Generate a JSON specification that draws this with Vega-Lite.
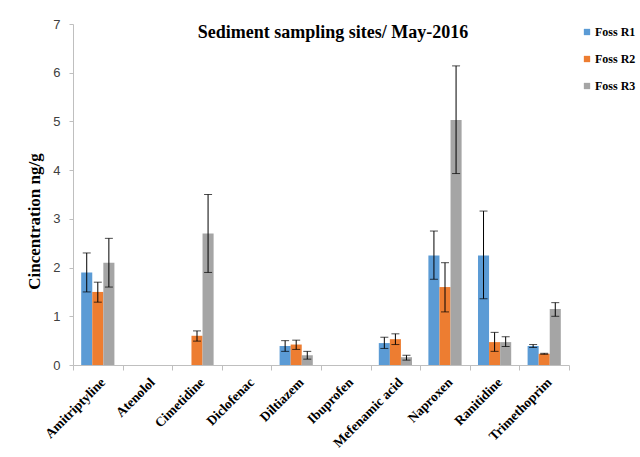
{
  "$schema": "https://vega.github.io/schema/vega-lite/v6.json",
  "width": 496,
  "height": 341,
  "autosize": {"type": "none"},
  "padding": {"left": 73, "top": 24, "right": 71, "bottom": 92},
  "background": "white",
  "config": {
    "view": {"stroke": null},
    "font": "Liberation Serif"
  },
  "title": {
    "text": "Sediment sampling sites/ May-2016",
    "font": "Liberation Serif",
    "fontWeight": "bold",
    "fontSize": 18,
    "color": "#000000",
    "anchor": "middle",
    "dx": 12,
    "offset": -24
  },
  "data": {
    "values": [
      {"drug": "Amitriptyline", "series": "Foss R1", "value": 1.9, "lo": 1.5, "hi": 2.3},
      {"drug": "Amitriptyline", "series": "Foss R2", "value": 1.5, "lo": 1.29, "hi": 1.7},
      {"drug": "Amitriptyline", "series": "Foss R3", "value": 2.1, "lo": 1.6, "hi": 2.6},
      {"drug": "Atenolol", "series": "Foss R1", "value": 0, "lo": null, "hi": null},
      {"drug": "Atenolol", "series": "Foss R2", "value": 0, "lo": null, "hi": null},
      {"drug": "Atenolol", "series": "Foss R3", "value": 0, "lo": null, "hi": null},
      {"drug": "Cimetidine", "series": "Foss R1", "value": 0, "lo": null, "hi": null},
      {"drug": "Cimetidine", "series": "Foss R2", "value": 0.6, "lo": 0.49, "hi": 0.7},
      {"drug": "Cimetidine", "series": "Foss R3", "value": 2.7, "lo": 1.9, "hi": 3.5},
      {"drug": "Diclofenac", "series": "Foss R1", "value": 0, "lo": null, "hi": null},
      {"drug": "Diclofenac", "series": "Foss R2", "value": 0, "lo": null, "hi": null},
      {"drug": "Diclofenac", "series": "Foss R3", "value": 0, "lo": null, "hi": null},
      {"drug": "Diltiazem", "series": "Foss R1", "value": 0.39, "lo": 0.28, "hi": 0.5},
      {"drug": "Diltiazem", "series": "Foss R2", "value": 0.42, "lo": 0.32, "hi": 0.51},
      {"drug": "Diltiazem", "series": "Foss R3", "value": 0.2, "lo": 0.12, "hi": 0.28},
      {"drug": "Ibuprofen", "series": "Foss R1", "value": 0, "lo": null, "hi": null},
      {"drug": "Ibuprofen", "series": "Foss R2", "value": 0, "lo": null, "hi": null},
      {"drug": "Ibuprofen", "series": "Foss R3", "value": 0, "lo": null, "hi": null},
      {"drug": "Mefenamic acid", "series": "Foss R1", "value": 0.45, "lo": 0.34, "hi": 0.57},
      {"drug": "Mefenamic acid", "series": "Foss R2", "value": 0.53, "lo": 0.42, "hi": 0.64},
      {"drug": "Mefenamic acid", "series": "Foss R3", "value": 0.16, "lo": 0.1, "hi": 0.2},
      {"drug": "Naproxen", "series": "Foss R1", "value": 2.25, "lo": 1.76, "hi": 2.75},
      {"drug": "Naproxen", "series": "Foss R2", "value": 1.6, "lo": 1.09, "hi": 2.1},
      {"drug": "Naproxen", "series": "Foss R3", "value": 5.03, "lo": 3.93, "hi": 6.14},
      {"drug": "Ranitidine", "series": "Foss R1", "value": 2.25, "lo": 1.36, "hi": 3.16},
      {"drug": "Ranitidine", "series": "Foss R2", "value": 0.47, "lo": 0.28, "hi": 0.67},
      {"drug": "Ranitidine", "series": "Foss R3", "value": 0.47, "lo": 0.38, "hi": 0.58},
      {"drug": "Trimethoprim", "series": "Foss R1", "value": 0.39, "lo": 0.36, "hi": 0.42},
      {"drug": "Trimethoprim", "series": "Foss R2", "value": 0.23, "lo": 0.22, "hi": 0.24},
      {"drug": "Trimethoprim", "series": "Foss R3", "value": 1.15, "lo": 1.0, "hi": 1.28}
    ]
  },
  "encoding": {
    "x": {
      "field": "drug",
      "type": "nominal",
      "sort": null,
      "scale": {"paddingInner": 0, "paddingOuter": 0},
      "axis": {
        "title": null,
        "labelAngle": -45,
        "labelAlign": "right",
        "labelBaseline": "top",
        "labelFont": "Liberation Serif",
        "labelFontWeight": "bold",
        "labelFontSize": 13.5,
        "labelColor": "#000000",
        "labelPadding": 5,
        "tickBand": "extent",
        "tickSize": 5,
        "tickColor": "#bfbfbf",
        "domainColor": "#bfbfbf",
        "grid": false
      }
    },
    "xOffset": {
      "field": "series",
      "type": "nominal",
      "scale": {"paddingInner": 0, "paddingOuter": 0.74}
    }
  },
  "layer": [
    {
      "mark": {"type": "bar"},
      "encoding": {
        "y": {
          "field": "value",
          "type": "quantitative",
          "scale": {"domain": [0, 7]},
          "axis": {
            "title": "Cincentration ng/g",
            "titleFont": "Liberation Serif",
            "titleFontWeight": "bold",
            "titleFontSize": 17,
            "titleColor": "#000000",
            "titlePadding": 9,
            "titleY": 197,
            "titleAlign": "center",
            "values": [0, 1, 2, 3, 4, 5, 6, 7],
            "labelFont": "Liberation Sans",
            "labelFontSize": 13,
            "labelColor": "#404040",
            "labelPadding": 9,
            "tickSize": 4,
            "tickColor": "#bfbfbf",
            "domainColor": "#bfbfbf",
            "grid": false
          }
        },
        "color": {
          "field": "series",
          "type": "nominal",
          "scale": {"domain": ["Foss R1", "Foss R2", "Foss R3"], "range": ["#5B9BD5", "#ED7D31", "#A5A5A5"]},
          "legend": {
            "title": null,
            "orient": "none",
            "legendX": 508,
            "legendY": 2,
            "symbolType": "square",
            "symbolSize": 40,
            "symbolStrokeWidth": 0,
            "labelFont": "Liberation Serif",
            "labelFontWeight": "bold",
            "labelFontSize": 12,
            "labelColor": "#000000",
            "labelOffset": 2,
            "rowPadding": 15,
            "padding": 0
          }
        }
      }
    },
    {
      "mark": {"type": "rule", "color": "#000000", "strokeWidth": 1},
      "encoding": {
        "y": {"field": "lo", "type": "quantitative"},
        "y2": {"field": "hi"}
      }
    },
    {
      "mark": {"type": "tick", "color": "#000000", "size": 8, "thickness": 1},
      "encoding": {
        "y": {"field": "lo", "type": "quantitative"}
      }
    },
    {
      "mark": {"type": "tick", "color": "#000000", "size": 8, "thickness": 1},
      "encoding": {
        "y": {"field": "hi", "type": "quantitative"}
      }
    }
  ]
}
